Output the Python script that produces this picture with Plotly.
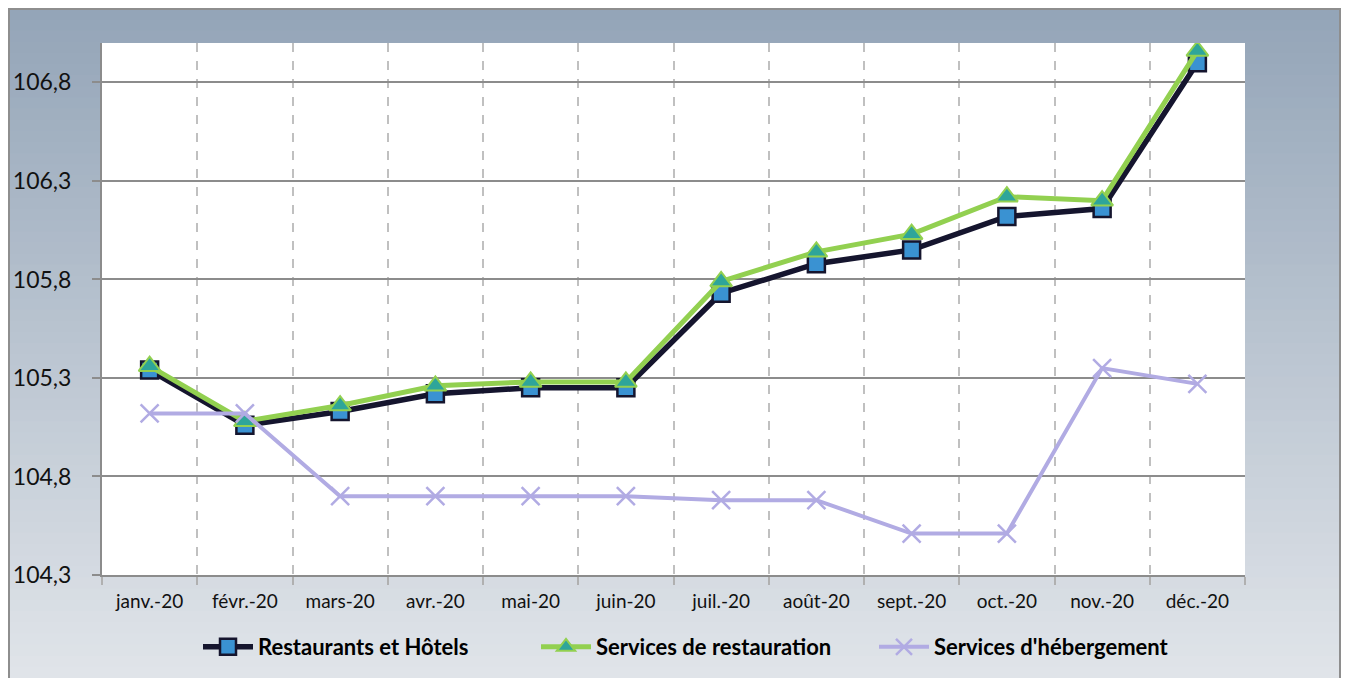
import plotly.graph_objects as go

months = ["janv.-20", "févr.-20", "mars-20", "avr.-20", "mai-20", "juin-20",
          "juil.-20", "août-20", "sept.-20", "oct.-20", "nov.-20", "déc.-20"]
restaurants_hotels = [105.34, 105.06, 105.13, 105.22, 105.25, 105.25,
                      105.73, 105.88, 105.95, 106.12, 106.16, 106.90]
services_restauration = [105.36, 105.08, 105.16, 105.26, 105.28, 105.28,
                         105.79, 105.94, 106.03, 106.22, 106.20, 106.96]
services_hebergement = [105.12, 105.12, 104.70, 104.70, 104.70, 104.70,
                        104.68, 104.68, 104.51, 104.51, 105.35, 105.27]
y_ticks = [104.3, 104.8, 105.3, 105.8, 106.3, 106.8]

W, H = 1333, 670
ML, MR, MT, MB = 94, 96, 35, 103
PW, PH = W - ML - MR, H - MT - MB

def px_x(p):
    return (p - ML) / PW

def px_y(p):
    return (H - MB - p) / PH

FONT = "Lato, 'Open Sans', sans-serif"

fig = go.Figure()
fig.add_trace(go.Scatter(
    x=months, y=restaurants_hotels, name="Restaurants et Hôtels",
    mode="lines+markers",
    line=dict(color="#15152e", width=5.5),
    marker=dict(symbol="square", size=17, color="#3a92d2",
                line=dict(color="#15152e", width=2.5)),
))
fig.add_trace(go.Scatter(
    x=months, y=services_restauration, name="Services de restauration",
    mode="lines+markers",
    line=dict(color="#92d050", width=5),
    marker=dict(symbol="triangle-up", size=19, color="#2ea59a",
                line=dict(color="#92d050", width=2)),
))
fig.add_trace(go.Scatter(
    x=months, y=services_hebergement, name="Services d'hébergement",
    mode="lines+markers",
    line=dict(color="#b1abe3", width=4),
    marker=dict(symbol="x-thin", size=18, color="#b1abe3",
                line=dict(color="#b1abe3", width=2.5)),
))

# background gradient
shapes = []
N = 60
top = (148, 165, 184)
bot = (224, 228, 233)
for i in range(N):
    f = i / (N - 1)
    c = tuple(int(round(top[k] + (bot[k] - top[k]) * f)) for k in range(3))
    y0 = i * H / N
    y1 = (i + 1) * H / N + 1
    shapes.append(dict(type="rect", xref="paper", yref="paper", layer="below",
                       x0=px_x(0), x1=px_x(W), y0=px_y(y0), y1=px_y(y1),
                       fillcolor="rgb(%d,%d,%d)" % c, line=dict(width=0)))
# plot area
shapes.append(dict(type="rect", xref="paper", yref="paper", layer="below",
                   x0=0, x1=1, y0=0, y1=1, fillcolor="white", line=dict(width=0)))
# outer frame
shapes.append(dict(type="rect", xref="paper", yref="paper", layer="above",
                   x0=px_x(1), x1=px_x(W - 1), y0=px_y(1), y1=px_y(H + 5),
                   fillcolor="rgba(0,0,0,0)", line=dict(color="#8e8e8e", width=2)))

fig.update_layout(
    width=W, height=H,
    margin=dict(l=ML, r=MR, t=MT, b=MB, autoexpand=False),
    paper_bgcolor="white",
    plot_bgcolor="rgba(0,0,0,0)",
    separators=", ",
    font=dict(family=FONT, color="#111111"),
    shapes=shapes,
    showlegend=True,
    legend=dict(orientation="h", x=px_x(190), xanchor="left",
                yref="container", y=1 - 639 / H, yanchor="middle",
                font=dict(family=FONT, size=22, color="#000000", weight="bold"),
                bgcolor="rgba(0,0,0,0)", itemwidth=50, tracegroupgap=0,
                entrywidth=273, entrywidthmode="pixels"),
    xaxis=dict(
        type="category", categoryorder="array", categoryarray=months,
        range=[-0.5, 11.5], tickson="boundaries",
        showgrid=True, gridcolor="#c0c0c0", gridwidth=2, griddash="dash",
        showline=True, linecolor="#8c8c8c", linewidth=2,
        ticks="outside", ticklen=8, tickcolor="#b0b0b0", tickwidth=2,
        tickfont=dict(family=FONT, size=19, color="#111111"),
        ticklabelstandoff=8, zeroline=False, fixedrange=True, automargin=False,
    ),
    yaxis=dict(
        range=[104.3, 107.0], tickvals=y_ticks, tickformat=".1f",
        showgrid=True, gridcolor="#8c8c8c", gridwidth=2,
        showline=True, linecolor="#8c8c8c", linewidth=2,
        ticks="outside", ticklen=8, tickcolor="#8c8c8c", tickwidth=2,
        tickfont=dict(family=FONT, size=23, color="#111111"),
        ticklabelstandoff=16, zeroline=False, fixedrange=True, automargin=False,
    ),
)

fig.write_html("out.html")
